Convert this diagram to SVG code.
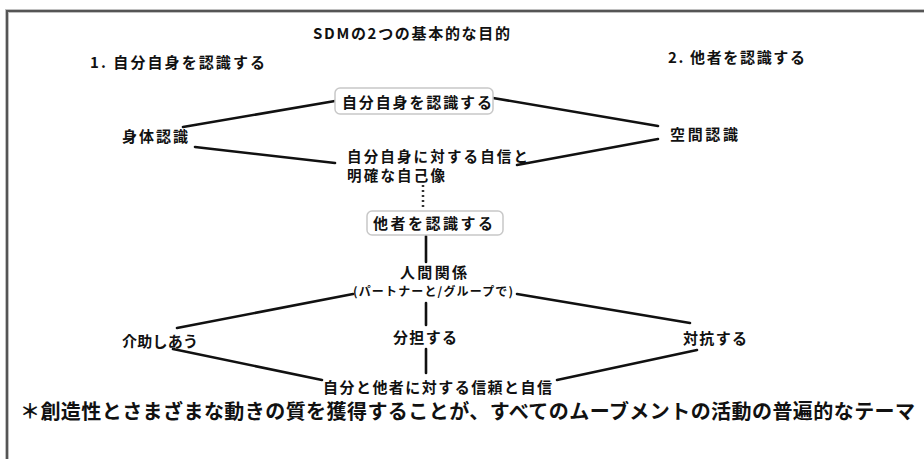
<svg xmlns="http://www.w3.org/2000/svg" width="924" height="459" viewBox="0 0 924 459">
<style>
text{font-family:"Noto Sans CJK JP","Noto Sans",sans-serif;font-weight:bold;fill:#111;}
.t{font-size:15px;}
.c{font-size:14.5px;}
.s{font-size:12px;}
.f{font-size:20px;}
.box{fill:#fff;stroke:#c8c8c8;stroke-width:1.5;}
.ln{stroke:#111;stroke-width:2.6;fill:none;stroke-linecap:round;}
.dot{stroke:#333;stroke-width:2.5;stroke-dasharray:2 3;fill:none;}
</style>
<rect width="924" height="459" fill="#fff"/>
<path d="M7,459 V11 H924" fill="none" stroke="#c0c0c0" stroke-width="4"/>
<path d="M7,459 V11 H924" fill="none" stroke="#555" stroke-width="2"/>
<g id="title"><text class="t" x="313" y="39" textLength="197">SDMの2つの基本的な目的</text></g>
<g id="goal1"><text class="t" x="90" y="68" textLength="175">1. 自分自身を認識する</text></g>
<g id="goal2"><text class="t" x="668" y="63" textLength="137">2. 他者を認識する</text></g>
<g id="connectors">
<line class="ln" x1="183" y1="127" x2="335" y2="101"/>
<line class="ln" x1="195" y1="147" x2="335" y2="163"/>
<line class="ln" x1="493" y1="98" x2="658" y2="126"/>
<line class="ln" x1="517" y1="165" x2="658" y2="139"/>
<line class="dot" x1="423" y1="185" x2="423" y2="210"/>
<line class="ln" x1="426" y1="236" x2="426" y2="262"/>
<line class="ln" x1="177" y1="328" x2="353" y2="294"/>
<line class="ln" x1="517" y1="294" x2="690" y2="323"/>
<line class="ln" x1="426" y1="303" x2="426" y2="325"/>
<line class="ln" x1="426" y1="349" x2="426" y2="373"/>
<line class="ln" x1="173" y1="349" x2="322" y2="380"/>
<line class="ln" x1="557" y1="380" x2="697" y2="350"/>
</g>
<g id="self"><rect class="box" x="335" y="88" width="158" height="26" rx="5"/><text class="t" x="342" y="108" textLength="150">自分自身を認識する</text></g>
<g id="body"><text class="t" x="122" y="142" textLength="66">身体認識</text></g>
<g id="space"><text class="t" x="670" y="140" textLength="68">空間認識</text></g>
<g id="confidence"><text class="c" x="347" y="162" textLength="181">自分自身に対する自信と</text><text class="c" x="347" y="181" textLength="98">明確な自己像</text></g>
<g id="others"><rect class="box" x="367" y="211" width="136" height="24" rx="5"/><text class="t" x="373" y="229" textLength="120">他者を認識する</text></g>
<g id="relation"><text class="t" x="400" y="278" textLength="67">人間関係</text><text class="s" x="353" y="296" textLength="160">(パートナーと/グループで)</text></g>
<g id="help"><text class="t" x="122" y="347" textLength="76">介助しあう</text></g>
<g id="share"><text class="t" x="393" y="343" textLength="64">分担する</text></g>
<g id="oppose"><text class="t" x="683" y="344" textLength="64">対抗する</text></g>
<g id="trust"><text class="t" x="323" y="393" textLength="229">自分と他者に対する信頼と自信</text></g>
<g id="footer"><text class="f" x="20" y="419" textLength="895">＊創造性とさまざまな動きの質を獲得することが、すべてのムーブメントの活動の普遍的なテーマ</text></g>
</svg>
